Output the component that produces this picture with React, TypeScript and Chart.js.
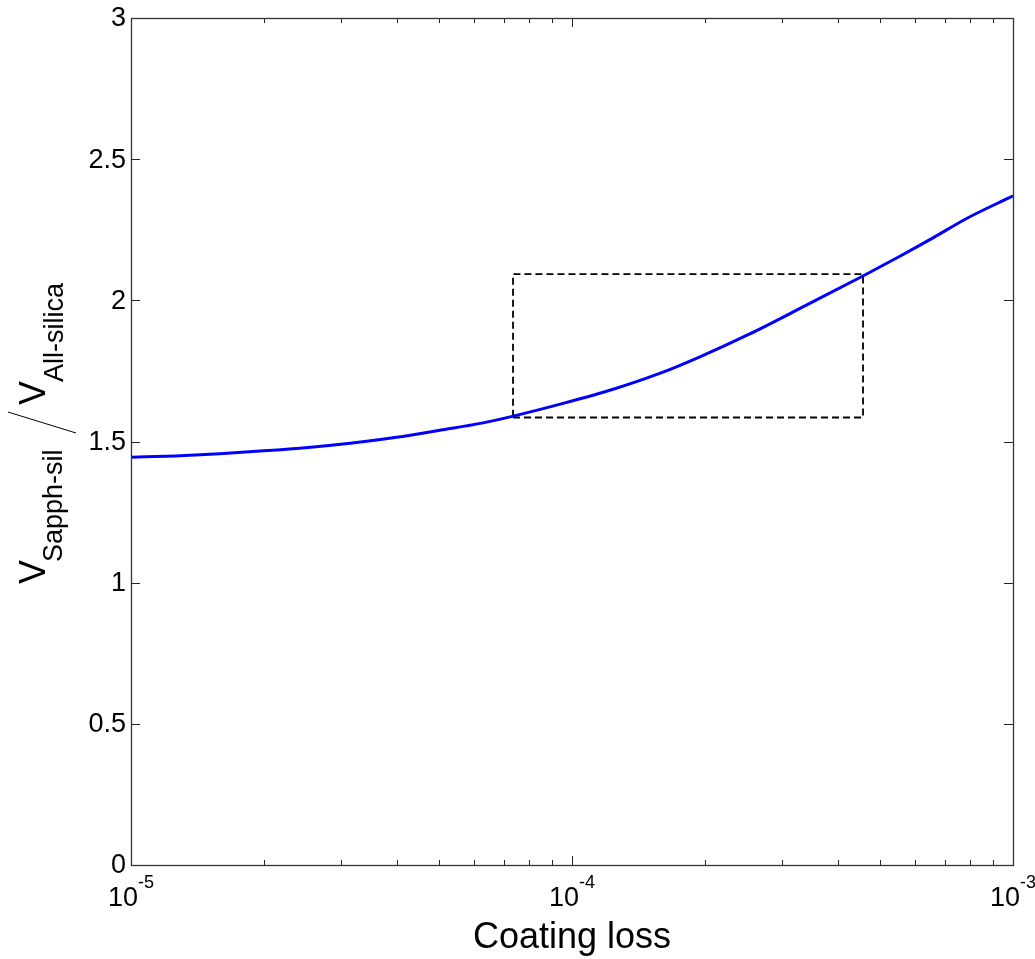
import React, { useEffect, useRef } from 'react';
import { Chart, registerables } from 'chart.js';

Chart.register(...registerables);

// Volume ratio curve versus coating loss angle
const coatingLoss = [
  1e-5, 1.26e-5, 1.59e-5, 2.0e-5, 2.52e-5, 3.14e-5, 4.0e-5, 5.02e-5, 6.29e-5, 7.36e-5,
  9.55e-5, 1.24e-4, 1.58e-4, 1.95e-4, 2.53e-4, 3.4e-4, 4.58e-4, 5.54e-4, 6.6e-4, 7.85e-4, 1e-3,
];
const volumeRatio = [
  1.444, 1.449, 1.457, 1.467, 1.479, 1.494, 1.515, 1.540, 1.566, 1.590,
  1.635, 1.685, 1.741, 1.800, 1.881, 1.983, 2.087, 2.156, 2.222, 2.290, 2.370,
];

// Highlighted region (dashed rectangle corners, closed path)
const boxLoss = [7.35e-5, 4.57e-4, 4.57e-4, 7.35e-5, 7.35e-5];
const boxRatio = [1.585, 1.585, 2.093, 2.093, 1.585];

// Axis ticks
const yTicks = [0, 0.5, 1, 1.5, 2, 2.5, 3];
const xDecades = [-5, -4, -3];

const FONT = '"Liberation Sans", Arial, Helvetica, sans-serif';

const axesPlugin = {
  id: 'matlabAxes',
  afterDraw(chart: any) {
    const { ctx, chartArea: a, scales } = chart;
    const xs = scales.x;
    const ys = scales.y;
    ctx.save();

    // tick marks (inward, on all four sides)
    ctx.strokeStyle = '#262626';
    ctx.lineWidth = 1;
    ctx.beginPath();
    for (const v of yTicks) {
      const py = Math.round(ys.getPixelForValue(v)) + 0.5;
      ctx.moveTo(a.left, py);
      ctx.lineTo(a.left + 9, py);
      ctx.moveTo(a.right, py);
      ctx.lineTo(a.right - 9, py);
    }
    for (let i = 0; i < xDecades.length; i++) {
      const d = xDecades[i];
      const last = i === xDecades.length - 1;
      for (let m = 1; m <= (last ? 1 : 9); m++) {
        const v = m * Math.pow(10, d);
        const px = Math.round(xs.getPixelForValue(v)) + 0.5;
        const len = m === 1 ? 9 : 5;
        ctx.moveTo(px, a.bottom);
        ctx.lineTo(px, a.bottom - len);
        ctx.moveTo(px, a.top);
        ctx.lineTo(px, a.top + len);
      }
    }
    ctx.stroke();

    // axes box
    ctx.strokeStyle = '#333333';
    ctx.lineWidth = 1.3;
    ctx.strokeRect(Math.round(a.left) + 0.5, Math.round(a.top) + 0.5, Math.round(a.right - a.left), Math.round(a.bottom - a.top));

    // y tick labels
    ctx.fillStyle = '#000';
    ctx.font = `27px ${FONT}`;
    ctx.textAlign = 'right';
    ctx.textBaseline = 'middle';
    for (const v of yTicks) {
      ctx.fillText(String(v), a.left - 5, ys.getPixelForValue(v) + 1);
    }

    // x tick labels: 10^n
    ctx.textAlign = 'left';
    ctx.textBaseline = 'alphabetic';
    for (const d of xDecades) {
      const px = xs.getPixelForValue(Math.pow(10, d));
      ctx.font = `27px ${FONT}`;
      const w1 = ctx.measureText('10').width;
      ctx.font = `18px ${FONT}`;
      const sup = String(d);
      const w2 = ctx.measureText(sup).width;
      const start = px - (w1 + w2) / 2;
      ctx.font = `27px ${FONT}`;
      ctx.fillText('10', start, a.bottom + 41);
      ctx.font = `18px ${FONT}`;
      ctx.fillText(sup, start + w1, a.bottom + 23);
    }

    // x axis title
    ctx.font = `36px ${FONT}`;
    ctx.textAlign = 'center';
    ctx.fillText('Coating loss', (a.left + a.right) / 2, a.bottom + 83);

    // y axis title: V_Sapph-sil / V_All-silica (rotated)
    ctx.translate(45, 584);
    ctx.rotate(-Math.PI / 2);
    ctx.textAlign = 'left';
    ctx.font = `36px ${FONT}`;
    ctx.fillText('V', 0, 0);
    ctx.font = `27px ${FONT}`;
    ctx.fillText('Sapph-sil', 22, 17);
    ctx.strokeStyle = '#000';
    ctx.lineWidth = 1;
    ctx.beginPath();
    ctx.moveTo(151, 31);
    ctx.lineTo(172, -37);
    ctx.stroke();
    ctx.font = `36px ${FONT}`;
    ctx.fillText('V', 179, 0);
    ctx.font = `27px ${FONT}`;
    ctx.fillText('All-silica', 202, 18);

    ctx.restore();
  },
};

export default function App() {
  const canvasRef = useRef<HTMLCanvasElement | null>(null);

  useEffect(() => {
    const canvas = canvasRef.current;
    if (!canvas) return;
    const curve = coatingLoss.map((x, i) => ({ x, y: volumeRatio[i] }));
    const box = boxLoss.map((x, i) => ({ x, y: boxRatio[i] }));
    const chart = new Chart(canvas, {
      type: 'line',
      data: {
        datasets: [
          {
            data: curve,
            borderColor: '#0000ff',
            borderWidth: 3,
            pointRadius: 0,
            cubicInterpolationMode: 'monotone',
            fill: false,
          },
          {
            data: box,
            borderColor: '#000000',
            borderWidth: 1.8,
            borderDash: [7, 4],
            pointRadius: 0,
            tension: 0,
            fill: false,
          },
        ],
      },
      options: {
        responsive: false,
        animation: false,
        devicePixelRatio: 1,
        layout: { padding: { left: 131, top: 18, right: 22, bottom: 94 } },
        plugins: {
          legend: { display: false },
          tooltip: { enabled: false },
        },
        events: [],
        scales: {
          x: { type: 'logarithmic', min: 1e-5, max: 1e-3, display: false },
          y: { type: 'linear', min: 0, max: 3, display: false },
        },
      },
      plugins: [axesPlugin],
    });
    return () => chart.destroy();
  }, []);

  return (
    <div style={{ position: 'absolute', left: 0, top: 0, width: 1035, height: 959, background: '#fff' }}>
      <canvas ref={canvasRef} width={1035} height={959} />
    </div>
  );
}
